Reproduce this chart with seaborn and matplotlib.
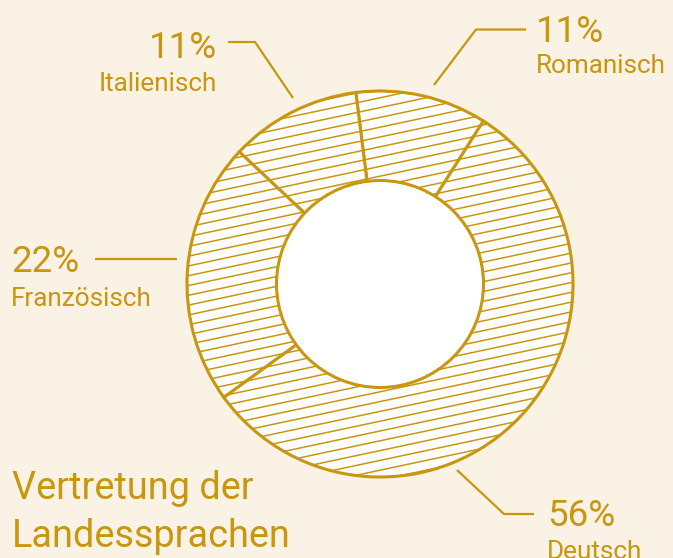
import numpy as np
import matplotlib
matplotlib.use("Agg")
import matplotlib.pyplot as plt
from matplotlib import font_manager
from matplotlib.patches import Circle
import seaborn as sns

# data
sprachen = ["Romanisch", "Italienisch", "Französisch", "Deutsch"]
anteile = [11, 11, 22, 56]
titel = ["Vertretung der", "Landessprachen"]

gold = "#c8960f"
bg = "#faf2e5"

sns.set_theme(style="white", rc={"figure.facecolor": bg, "axes.facecolor": bg})
vorhanden = {f.name for f in font_manager.fontManager.ttflist}
fam = [f for f in ["Roboto", "DejaVu Sans"] if f in vorhanden]
plt.rcParams["font.family"] = fam

W, H = 673, 558
fig = plt.figure(figsize=(W / 100, H / 100), dpi=100)
ax = fig.add_axes([0, 0, 1, 1])

cx, cy = 380, H - 284
R, r_in = 193, 103.5

ax.pie(anteile, startangle=57.6, counterclock=True, center=(cx, cy), radius=R,
       colors=["white"] * len(anteile),
       wedgeprops=dict(edgecolor=gold, linewidth=2.2), frame=False)

# schraffur (flacher winkel, geht nicht mit hatch)
ring = Circle((cx, cy), R, facecolor="none", edgecolor="none")
ax.add_patch(ring)
steig = np.tan(np.radians(12))
abstand = 9.8
xs = np.array([cx - R - 5, cx + R + 5])
for k in np.arange(-30, 31):
    ys = cy + steig * (xs - cx) + k * abstand
    ln, = ax.plot(xs, ys, color=gold, lw=1.1, zorder=2)
    ln.set_clip_path(ring)

ax.add_patch(Circle((cx, cy), r_in, facecolor="white", edgecolor=gold, lw=2.2, zorder=3))

# beschriftung: (text x, grundlinie prozent, grundlinie name, ha, leader-punkte)
layout = {
    "Italienisch": (217, 58.3, 91, "right", [(228, 42), (255, 42), (293, 98)]),
    "Romanisch": (536, 42.3, 73.3, "left", [(526, 29.5), (476, 29.5), (434, 85)]),
    "Französisch": (11, 272, 306, "left", [(95, 259), (177, 259)]),
    "Deutsch": (547, 526, 559, "left", [(457, 470), (504, 514), (534, 514)]),
}
for name, wert in zip(sprachen, anteile):
    x, yp, yn, ha, pts = layout[name]
    ax.text(x, H - yp, f"{wert}%", color=gold, fontsize=26.5, ha=ha, va="baseline")
    ax.text(x, H - yn, name, color=gold, fontsize=18.8, ha=ha, va="baseline")
    px = [p[0] for p in pts]
    py = [H - p[1] for p in pts]
    ax.plot(px, py, color=gold, lw=1.6, solid_capstyle="butt")

ax.text(12, H - 499.3, titel[0], color=gold, fontsize=27.3, ha="left", va="baseline")
ax.text(12, H - 546.7, titel[1], color=gold, fontsize=27.3, ha="left", va="baseline")

ax.set_xlim(0, W)
ax.set_ylim(0, H)
ax.set_aspect("auto")
ax.axis("off")

fig.savefig("out.png", dpi=100, facecolor=bg)
